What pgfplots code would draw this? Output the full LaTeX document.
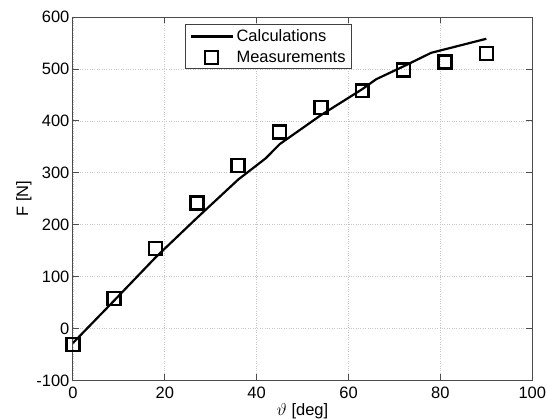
\documentclass[border=0pt]{standalone}
\usepackage{fontspec}
\setmainfont{Liberation Sans}
\usepackage{pgfplots}
\pgfplotsset{compat=1.18}
\pgfplotsset{
    longline/.style={legend image code/.code={\draw[##1] (0pt,0pt) -- (43pt,0pt);}},
    midmark/.style={legend image code/.code={\draw[##1] plot coordinates {(21pt,0pt)};}},
}

\begin{document}
\begin{tikzpicture}
\begin{axis}[
    scale only axis,
    width=460pt, height=364pt,
    xmin=0, xmax=100, ymin=-100, ymax=600,
    xtick={0,20,...,100},
    ytick={-100,0,...,600},
    grid=major,
    grid style={gray!45, dotted, line width=0.6pt},
    axis line style={line width=0.9pt, black!70},
    tick style={black!70, line width=0.8pt},
    tick align=inside,
    major tick length=6pt,
    font=\fontsize{16.5}{19}\selectfont,
    /pgf/number format/assume math mode=true,
    xticklabel style={yshift=-3pt, inner xsep=0pt},
    xlabel={$\vartheta$ [deg]},
    ylabel={F [N]},
    xlabel style={inner sep=0pt, yshift=-1pt},
    ylabel style={yshift=-2pt},
    legend style={at={(0.244,0.98)}, anchor=north west, draw=black!75,
        line width=0.9pt, inner xsep=4pt, inner ysep=3pt, row sep=4pt,
        font=\fontsize{16.5}{19}\selectfont},
    legend cell align=left,
]
\addplot[black, line width=2.2pt, sharp plot, longline] coordinates {
    (0,-28) (9,54) (18,137) (27,213) (36,287) (42,328) (45,355)
    (54,411) (63,461) (66,480) (72,505) (78,531) (90,558)
};
\addlegendentry{Calculations}
\addplot[only marks, mark=square, mark size=6.5pt,
    mark options={line width=2.6pt, black}, midmark] coordinates {
    (0,-31) (9,58) (18,154) (27,242) (36,314) (45,378)
    (54,426) (63,458) (72,498) (81,513) (90,530)
};
\addlegendentry{Measurements}
\end{axis}
% extra white margin at top and left, as in the reference
\path (current axis.north west) ++(-73pt,17pt) coordinate (pad);
\end{tikzpicture}
\end{document}
